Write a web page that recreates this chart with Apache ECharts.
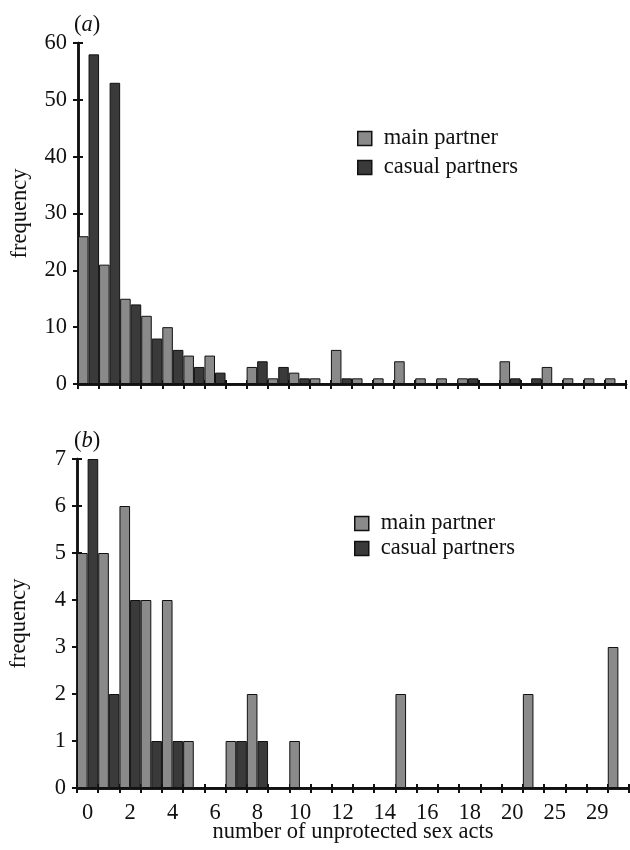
<!DOCTYPE html>
<html>
<head>
<meta charset="utf-8">
<script src="https://cdn.jsdelivr.net/npm/echarts@6/dist/echarts.min.js"></script>
<style>
html,body{margin:0;padding:0;background:#fff;}
#c{width:630px;height:850px;}
</style>
</head>
<body>
<div id="c"></div>
<script>
// bins of number of unprotected sex acts (26 bins; every other label shown)
var categories = ['0','1','2','3','4','5','6','7','8','9','10','11','12','13','14','15','16','17','18','19','20','21','25','26-28','29','30+'];
// panel (a)
var mainA   = [26,21,15,12,10,5,5,0,3,1,2,1,6,1,1,4,1,1,1,0,4,0,3,1,1,1];
var casualA = [58,53,14,8,6,3,2,0,4,3,1,0,1,0,0,0,0,0,1,0,1,1,0,0,0,0];
// panel (b)
var mainB   = [5,5,6,4,4,1,0,1,2,0,1,0,0,0,0,2,0,0,0,0,0,2,0,0,0,3];
var casualB = [7,2,4,1,1,0,0,1,1,0,0,0,0,0,0,0,0,0,0,0,0,0,0,0,0,0];
var yTicksA = {min:0, max:60, interval:10};
var yTicksB = {min:0, max:7, interval:1};
var seriesNames = ['main partner','casual partners'];

var FONT = '"Liberation Serif", "Times New Roman", serif';
var MAIN_COLOR = '#8a8a8a';
var CASUAL_COLOR = '#3a3a3a';
var INK = '#111';
var FS = 22.5;

var chart = echarts.init(document.getElementById('c'), null, {renderer:'canvas'});

function xAxes(gridIndex, showLabels, withName){
  var base = {
    type:'category', gridIndex:gridIndex, data:categories, position:'bottom', offset:0,
    boundaryGap:true,
    axisLine:{show:true, onZero:false, lineStyle:{color:INK, width:2.5}},
    splitLine:{show:false}
  };
  var outer = Object.assign({}, base, {
    axisTick:{show:true, interval:0, inside:false, length:5, lineStyle:{color:INK, width:2}},
    axisLabel:{show:showLabels, interval:1, margin:14, color:INK, fontFamily:FONT, fontSize:FS}
  });
  if (withName){
    outer.name = 'number of unprotected sex acts';
    outer.nameLocation = 'middle';
    outer.nameGap = 33;
    outer.nameMoveOverlap = false;
    outer.nameTextStyle = {color:INK, fontFamily:FONT, fontSize:FS};
  }
  var inner = Object.assign({}, base, {
    axisTick:{show:true, interval:0, inside:true, length:4, lineStyle:{color:INK, width:2}},
    axisLabel:{show:false}
  });
  return [outer, inner];
}
function yAxes(gridIndex, ticks){
  var base = {
    type:'value', gridIndex:gridIndex, min:ticks.min, max:ticks.max, interval:ticks.interval,
    position:'left', offset:0,
    axisLine:{show:true, onZero:false, lineStyle:{color:INK, width:2.5}},
    splitLine:{show:false}
  };
  var outer = Object.assign({}, base, {
    axisTick:{show:true, inside:false, length:5, lineStyle:{color:INK, width:2}},
    axisLabel:{show:true, margin:11, color:INK, fontFamily:FONT, fontSize:FS},
    name:'frequency', nameLocation:'middle', nameGap:46, nameRotate:90,
    nameTextStyle:{color:INK, fontFamily:FONT, fontSize:FS}
  });
  var inner = Object.assign({}, base, {
    axisTick:{show:true, inside:true, length:5, lineStyle:{color:INK, width:2}},
    axisLabel:{show:false}
  });
  return [outer, inner];
}
function bar(name, data, color, xi, yi){
  return {
    type:'bar', name:name, data:data, xAxisIndex:xi, yAxisIndex:yi,
    barGap:'0%', barCategoryGap:'0%',
    itemStyle:{color:color, borderColor:INK, borderWidth:1},
    emphasis:{disabled:true}, animation:false, silent:true
  };
}
function legend(top, gap, left){
  return {
    orient:'vertical', left:left, top:top, itemGap:gap,
    itemWidth:14, itemHeight:14, icon:'rect',
    data:seriesNames.map(function(n,i){
      return {name:n, itemStyle:{color:i===0?MAIN_COLOR:CASUAL_COLOR, borderColor:INK, borderWidth:1.5}};
    }),
    textStyle:{color:INK, fontFamily:FONT, fontSize:FS, lineHeight:20, padding:[0,0,0,7]},
    selectedMode:false
  };
}

var xs = xAxes(0,false,false).concat(xAxes(1,true,true));
var ys = yAxes(0,yTicksA).concat(yAxes(1,yTicksB));

chart.setOption({
  animation:false,
  backgroundColor:'#fff',
  grid:[
    {left:78, top:43, width:548, height:341, containLabel:false, outerBoundsMode:'none'},
    {left:77, top:459, width:552, height:329, containLabel:false, outerBoundsMode:'none'}
  ],
  xAxis:xs,
  yAxis:ys,
  legend:[legend(122,6,352), legend(507,2,349)],
  graphic:[
    {type:'text', left:74, top:14, style:{text:'{p|(}{i|a}{p|)}', rich:{
      p:{fontFamily:FONT, fontSize:FS, fill:INK},
      i:{fontFamily:FONT, fontSize:FS, fontStyle:'italic', fill:INK}}}},
    {type:'text', left:74, top:430, style:{text:'{p|(}{i|b}{p|)}', rich:{
      p:{fontFamily:FONT, fontSize:FS, fill:INK},
      i:{fontFamily:FONT, fontSize:FS, fontStyle:'italic', fill:INK}}}}
  ],
  series:[
    bar(seriesNames[0], mainA, MAIN_COLOR, 0, 0),
    bar(seriesNames[1], casualA, CASUAL_COLOR, 0, 0),
    bar(seriesNames[0], mainB, MAIN_COLOR, 2, 2),
    bar(seriesNames[1], casualB, CASUAL_COLOR, 2, 2)
  ]
});
</script>
</body>
</html>
